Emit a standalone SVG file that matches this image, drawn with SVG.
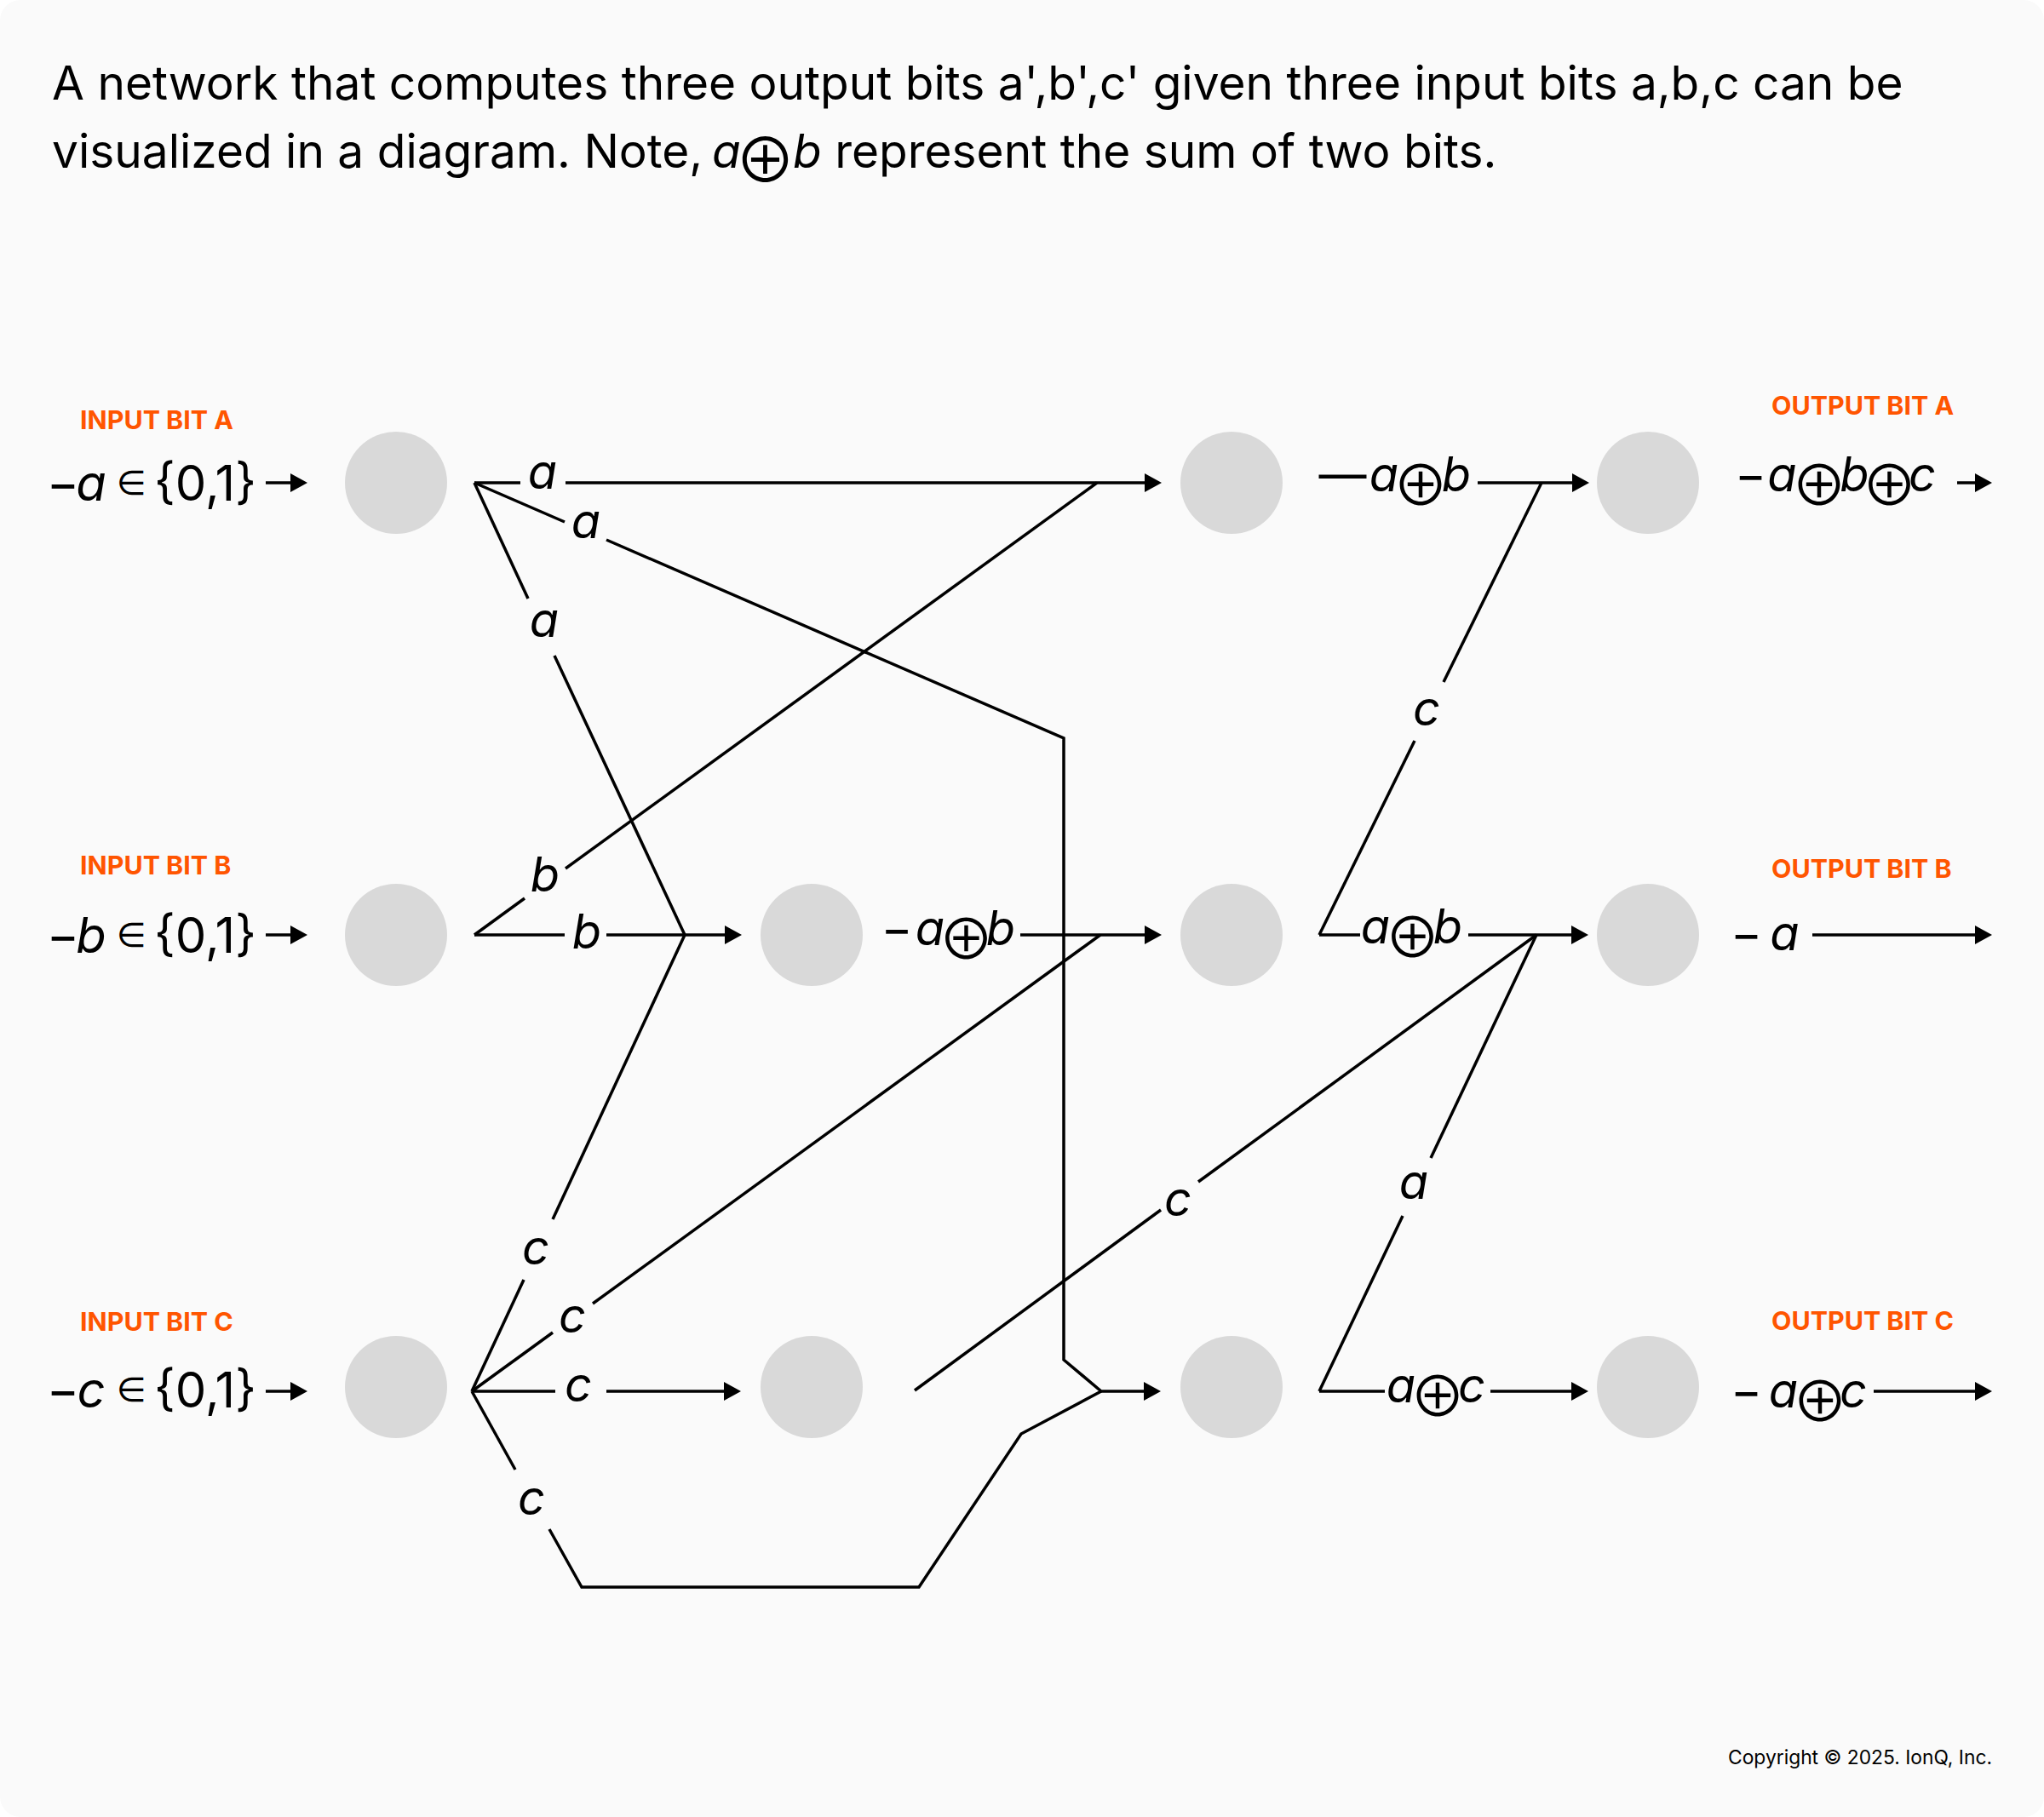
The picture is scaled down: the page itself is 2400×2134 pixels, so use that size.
<svg xmlns="http://www.w3.org/2000/svg" width="2400" height="2134" viewBox="0 0 2400 2134">
<defs>
<marker id="arr" viewBox="0 0 20 22" refX="10" refY="11" markerWidth="20" markerHeight="22" markerUnits="userSpaceOnUse" orient="auto"><path d="M0,0 L20,11 L0,22 z" fill="#000"/></marker>
<style>
.t{font-family:Inter,"DejaVu Sans",sans-serif;fill:#000}
.title{font-size:55px}
.lab{font-family:Inter,"DejaVu Sans",sans-serif;font-size:30.4px;font-weight:700;fill:#FF5500}
.inp{font-size:58px}
.v{font-style:italic}
.k{letter-spacing:-10px}
.kb{letter-spacing:-14px}
.op{font-family:"Noto Sans CJK JP","DejaVu Sans",sans-serif;font-style:normal;font-size:66px;letter-spacing:-12px}
.opt{font-family:"Noto Sans CJK JP","DejaVu Sans",sans-serif;font-style:normal;font-size:72px;letter-spacing:-8px}
.m{font-size:56px}
.node{fill:#D9D9D9}
.c{fill:none;stroke:#000;stroke-width:3.5;stroke-linejoin:miter}
.ca{fill:none;stroke:#000;stroke-width:3.5;marker-end:url(#arr)}
.cp{font-size:22.8px}
</style>
</defs>
<rect width="2400" height="2134" fill="#FFFFFF"/>
<rect width="2400" height="2134" rx="24" fill="#FAFAFA"/>

<g id="title" class="t title">
<text x="61" y="117">A network that computes three output bits a',b',c' given three input bits a,b,c can be</text>
<text x="61" y="197">visualized in a diagram. Note, <tspan class="v" x="836" letter-spacing="-12">a</tspan><tspan class="opt" x="894.5" y="214" text-anchor="middle">⊕</tspan><tspan class="v" x="931" y="197" text-anchor="start">b</tspan> represent the sum of two bits.</text>
</g>

<g id="nodes">
<g id="in-a"><circle class="node" cx="465" cy="567" r="60"/></g>
<g id="in-b"><circle class="node" cx="465" cy="1098" r="60"/></g>
<g id="in-c"><circle class="node" cx="465" cy="1629" r="60"/></g>
<g id="mid-b"><circle class="node" cx="953" cy="1098" r="60"/></g>
<g id="mid-c"><circle class="node" cx="953" cy="1629" r="60"/></g>
<g id="sum-a"><circle class="node" cx="1446" cy="567" r="60"/></g>
<g id="sum-b"><circle class="node" cx="1446" cy="1098" r="60"/></g>
<g id="sum-c"><circle class="node" cx="1446" cy="1629" r="60"/></g>
<g id="out-a"><circle class="node" cx="1935" cy="567" r="60"/></g>
<g id="out-b"><circle class="node" cx="1935" cy="1098" r="60"/></g>
<g id="out-c"><circle class="node" cx="1935" cy="1629" r="60"/></g>
</g>

<g id="io-labels">
<text class="lab" x="94" y="504">INPUT BIT A</text>
<text class="lab" x="94" y="1027">INPUT BIT B</text>
<text class="lab" x="94" y="1563">INPUT BIT C</text>
<text class="lab" x="2080" y="487">OUTPUT BIT A</text>
<text class="lab" x="2080" y="1031">OUTPUT BIT B</text>
<text class="lab" x="2080" y="1562">OUTPUT BIT C</text>
<text class="t inp" text-anchor="middle" y="588"><tspan x="74">−</tspan><tspan class="v" x="107">a</tspan><tspan x="154.5" y="581" font-size="40">∈</tspan><tspan x="241" y="588">{0,1}</tspan></text>
<text class="t inp" text-anchor="middle" y="1119"><tspan x="74">−</tspan><tspan class="v" x="107">b</tspan><tspan x="154.5" y="1112" font-size="40">∈</tspan><tspan x="241" y="1119">{0,1}</tspan></text>
<text class="t inp" text-anchor="middle" y="1653"><tspan x="74">−</tspan><tspan class="v" x="107">c</tspan><tspan x="154.5" y="1646" font-size="40">∈</tspan><tspan x="241" y="1653">{0,1}</tspan></text>
</g>

<g id="connectors">
<path class="ca" d="M312,567 H351"/>
<path class="ca" d="M312,1098 H351"/>
<path class="ca" d="M312,1634 H351"/>
<path class="c" d="M557,567 H611"/>
<path class="ca" d="M664,567 H1354"/>
<path class="c" d="M557,567 L663,613"/>
<path class="ca" d="M712,634 L1249,867 V1597 L1293,1634 H1353"/>
<path class="c" d="M557,567 L620,703"/>
<path class="c" d="M651,770 L804,1098"/>
<path class="c" d="M557,1098 H663"/>
<path class="ca" d="M712,1098 H861"/>
<path class="c" d="M557,1098 L616,1055"/>
<path class="c" d="M664,1020 L1288,567"/>
<path class="c" d="M554,1634 L615,1503"/>
<path class="c" d="M649,1432 L804,1098"/>
<path class="c" d="M554,1634 L649,1565"/>
<path class="c" d="M696,1531 L1292,1098"/>
<path class="c" d="M554,1634 H652"/>
<path class="ca" d="M712,1634 H860"/>
<path class="c" d="M554,1634 L605,1726"/>
<path class="c" d="M645,1796 L683,1864 H1079 L1199,1684 L1293,1634"/>
<path class="ca" d="M1198,1098 H1354"/>
<path class="c" d="M1074,1633 L1363,1421"/>
<path class="c" d="M1407,1388 L1804,1098"/>
<path class="ca" d="M1735,567 H1856"/>
<path class="c" d="M1549,1098 L1661,870"/>
<path class="c" d="M1695,801 L1810,567"/>
<path class="c" d="M1549,1098 H1597"/>
<path class="ca" d="M1724,1098 H1855"/>
<path class="c" d="M1549,1634 L1647,1428"/>
<path class="c" d="M1680,1360 L1804,1098"/>
<path class="c" d="M1549,1634 H1626"/>
<path class="ca" d="M1750,1634 H1855"/>
<path class="ca" d="M2298,567 H2329"/>
<path class="ca" d="M2128,1098 H2329"/>
<path class="ca" d="M2200,1634 H2329"/>
</g>

<g id="edge-labels" class="t m">
<text class="v" x="637" y="574" text-anchor="middle">a</text>
<text class="v" x="688" y="632" text-anchor="middle">a</text>
<text class="v" x="639" y="748" text-anchor="middle">a</text>
<text class="v" x="640" y="1047" text-anchor="middle">b</text>
<text class="v" x="689" y="1114" text-anchor="middle">b</text>
<text class="v" x="629" y="1485" text-anchor="middle">c</text>
<text class="v" x="672" y="1565" text-anchor="middle">c</text>
<text class="v" x="679" y="1646" text-anchor="middle">c</text>
<text class="v" x="624" y="1779" text-anchor="middle">c</text>
<text class="v" x="1383" y="1428" text-anchor="middle">c</text>
<text class="v" x="1675" y="852" text-anchor="middle">c</text>
<text class="v" x="1660" y="1408" text-anchor="middle">a</text>
<text text-anchor="middle" y="1110"><tspan x="1053">−</tspan><tspan class="v k" x="1087">a</tspan><tspan class="op" x="1128.5" y="1127">⊕</tspan><tspan class="v" x="1175" y="1110">b</tspan></text>
<text text-anchor="middle" y="577"><tspan x="1576.5">—</tspan><tspan class="v k" x="1620">a</tspan><tspan class="op" x="1662" y="594">⊕</tspan><tspan class="v" x="1710" y="577">b</tspan></text>
<text text-anchor="middle" y="1108"><tspan class="v k" x="1610">a</tspan><tspan class="op" x="1652.5" y="1125">⊕</tspan><tspan class="v" x="1700" y="1108">b</tspan></text>
<text text-anchor="middle" y="1647"><tspan class="v k" x="1640">a</tspan><tspan class="op" x="1682" y="1664">⊕</tspan><tspan class="v" x="1728" y="1647">c</tspan></text>
<text text-anchor="middle" y="577"><tspan x="2055.5">−</tspan><tspan class="v k" x="2087.5">a</tspan><tspan class="op" x="2130" y="594">⊕</tspan><tspan class="v kb" x="2170.5" y="577">b</tspan><tspan class="op" x="2212.5" y="594">⊕</tspan><tspan class="v" x="2257" y="577">c</tspan></text>
<text text-anchor="middle" y="1116"><tspan x="2050.5">−</tspan><tspan class="v" x="2095.5">a</tspan></text>
<text text-anchor="middle" y="1653"><tspan x="2050.5">−</tspan><tspan class="v k" x="2089">a</tspan><tspan class="op" x="2131" y="1670">⊕</tspan><tspan class="v" x="2176" y="1653">c</tspan></text>
</g>

<text class="t cp" x="2339" y="2072" text-anchor="end">Copyright © 2025. IonQ, Inc.</text>
</svg>
